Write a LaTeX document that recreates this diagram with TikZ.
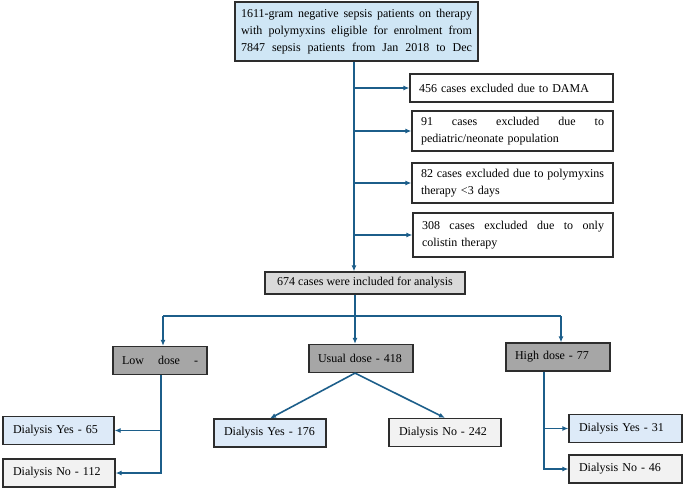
\documentclass[tikz,border=0pt]{standalone}
\usepackage{fontspec}
\setmainfont{Liberation Serif}
\usepackage{xcolor}
\usepackage{tikz}
\usetikzlibrary{arrows.meta, positioning, calc}
\definecolor{flowline}{RGB}{28, 94, 138}
\definecolor{screenfill}{RGB}{207, 230, 245}
\definecolor{yesfill}{RGB}{221, 234, 248}
\definecolor{nofill}{RGB}{242, 242, 242}
\definecolor{inclfill}{RGB}{217, 217, 217}
\definecolor{dosefill}{RGB}{166, 166, 166}
\definecolor{boxedge}{RGB}{45, 45, 45}

% one line spread over the whole text width
\newcommand{\fullline}[1]{{\spaceskip=0.25em plus 2em\xspaceskip=0pt\makebox[\hsize][s]{#1}}}

\tikzset{
  box/.style={draw=boxedge, line width=1.2pt, inner ysep=0pt, font=\fontsize{12}{17}\selectfont},
  exclbox/.style={box, fill=white, inner xsep=9pt, align=left},
  dosebox/.style={box, fill=dosefill, inner xsep=9pt, align=left, minimum height=28pt},
  yesbox/.style={box, fill=yesfill, inner xsep=10pt, align=left, minimum height=28pt},
  nobox/.style={box, fill=nofill, inner xsep=10pt, align=left, minimum height=28pt},
  flow/.style={draw=flowline, line width=1.6pt},
  flowarrow/.style={flow, -{Latex[length=6pt, width=5pt]}},
}

\begin{document}
\begin{tikzpicture}[x=1pt, y=-1pt]
    \useasboundingbox (0,0) rectangle (684,491);

    % screened patients
    \node[box, fill=screenfill, minimum height=59pt, inner xsep=6pt, text width=231pt, align=left]
        (screen) at (356.5,31.5) {
        \fullline{1611-gram negative sepsis patients on therapy}\\
        \fullline{with polymyxins eligible for enrolment from}\\
        \fullline{7847 sepsis patients from Jan 2018 to Dec}
    };

    % exclusions
    \node[exclbox, minimum height=28pt, text width=185pt] (dama) at (511.5,88) {456 cases excluded due to DAMA};
    \node[exclbox, minimum height=40pt, text width=183pt] (paed) at (512.5,131) {
        \fullline{91 cases excluded due to}\\ pediatric/neonate population};
    \node[exclbox, minimum height=40pt, text width=183pt] (short) at (512.5,183) {
        \fullline{82 cases excluded due to polymyxins}\\ therapy <3 days};
    \node[exclbox, minimum height=44pt, text width=182pt] (coli) at (513,235) {
        \fullline{308 cases excluded due to only}\\ colistin therapy};

    % included
    \node[box, fill=inclfill, minimum width=200pt, minimum height=22pt] (incl) at (365,283)
        {674 cases were included for analysis};

    % dose groups
    \node[dosebox, text width=76pt] (low) at (160,360.5) {\fullline{Low dose -}};
    \node[dosebox, text width=86pt] (usual) at (361,358.5) {Usual dose - 418};
    \node[dosebox, text width=86pt] (high) at (558,357) {High dose - 77};

    % dialysis
    \node[yesbox, text width=91pt] (yes65) at (58.5,430.5) {Dialysis Yes - 65};
    \node[nobox, text width=92pt] (no112) at (59,473) {Dialysis No - 112};
    \node[yesbox, text width=92pt] (yes176) at (270,433) {Dialysis Yes - 176};
    \node[nobox, text width=92pt] (no242) at (445,432.5) {Dialysis No - 242};
    \node[yesbox, text width=93pt] (yes31) at (625.5,428.5) {Dialysis Yes - 31};
    \node[nobox, text width=93pt] (no46) at (625.5,469) {Dialysis No - 46};

    % connectors
    \coordinate (trunk) at (354,0);
    \draw[flowarrow] (screen.south -| trunk) -- (incl.north -| trunk);
    \foreach \ex in {dama, paed, short, coli}
        \draw[flowarrow] (\ex.west -| trunk) -- (\ex.west);

    \coordinate (split) at (355,316);
    \coordinate (splitL) at (163,316);
    \coordinate (splitR) at (561,316);
    \draw[flow] (incl.south -| split) -- (split);
    \draw[flow] (splitL) -- (splitR);
    \draw[flowarrow] (splitL) -- (low.north -| splitL);
    \draw[flowarrow] (split) -- (usual.north -| split);
    \draw[flowarrow] (splitR) -- (high.north -| splitR);

    \coordinate (lowstem) at (161,473);
    \draw[flowarrow] (low.south -| lowstem) -- (lowstem) -- (no112.east);
    \draw[flowarrow] (yes65.east -| lowstem) -- (yes65.east);

    \draw[flowarrow] (usual.south -| split) -- (yes176.north);
    \draw[flowarrow] (usual.south -| split) -- (no242.north);

    \coordinate (highstem) at (544,469);
    \draw[flowarrow] (high.south -| highstem) -- (highstem) -- (no46.west);
    \draw[flowarrow] (yes31.west -| highstem) -- (yes31.west);
\end{tikzpicture}
\end{document}
